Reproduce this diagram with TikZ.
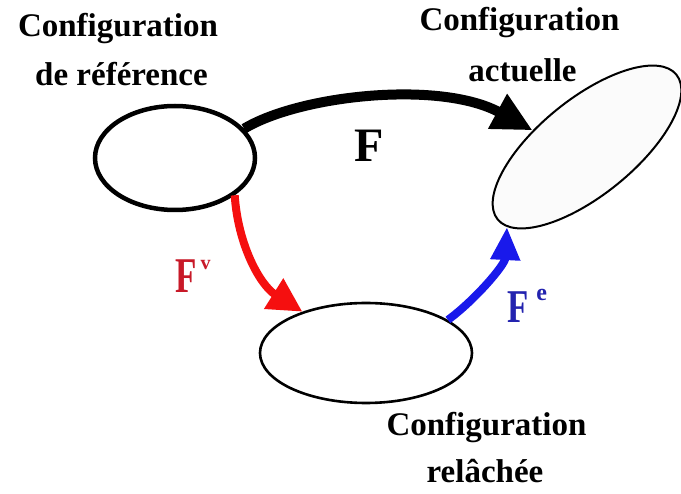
\documentclass[tikz,border=0pt]{standalone}
\usepackage{graphicx}
\usepackage{fontspec}
\setmainfont{Liberation Serif}
\usetikzlibrary{shapes.geometric,arrows.meta}
\definecolor{fred}{RGB}{245,15,15}
\definecolor{fblue}{RGB}{25,25,235}
\definecolor{labred}{RGB}{200,25,40}
\definecolor{labblue}{RGB}{35,35,175}
\begin{document}
\begin{tikzpicture}[x=1pt,y=-1pt,
  conf/.style={shape=ellipse, draw=black, inner sep=0pt, fill=white},
  lab/.style={font=\fontsize{33}{33}\selectfont\bfseries, anchor=base, inner sep=0pt},
  biglab/.style={font=\fontsize{48}{48}\selectfont\bfseries, inner sep=0pt},
  arrowF/.style={line width=10pt, -{Triangle[length=40pt,width=37pt]}},
  arrowV/.style={fred, line width=8pt, -{Triangle[length=34pt,width=34pt]}},
  arrowE/.style={fblue, line width=8pt, -{Triangle[length=33pt,width=28pt]}}]
\useasboundingbox (0,0) rectangle (681,494);
\fill[white] (0,0) rectangle (681,494);
% ellipses
\node[conf, line width=4.5pt, minimum width=160pt, minimum height=104pt] (ref) at (175,158) {};
\node[conf, line width=2.6pt, minimum width=212pt, minimum height=100pt] (rel) at (366,353) {};
\node[conf, line width=2pt, minimum width=230pt, minimum height=96pt, rotate=39, fill=gray!3] (act) at (587,147) {};
% arrows
\draw[arrowF] (ref.23) .. controls (300,95) and (440,80) .. (act.124);
\draw[arrowV] (ref.-32) .. controls (238,245) and (260,285) .. (rel.147);
\draw[arrowE] (rel.22) .. controls (475,300) and (505,265) .. (act.186);
% texts
\node[lab] (t1) at (118,37) {Configuration};
\node[lab] (t2) at (121.5,86) {de référence};
\node[lab] (t3) at (519.5,31) {Configuration};
\node[lab] (t4) at (522.5,82) {actuelle};
\node[lab] (t5) at (486.5,436) {Configuration};
\node[lab] (t6) at (485,483) {relâchée};
% labels
\node[biglab, anchor=base] (flab) at (369,162) {F};
\node[biglab, font=\fontsize{50}{50}\selectfont\bfseries, anchor=base west, text=labred] (fvlab) at (175,293)
  {\scalebox{0.7}[1]{F}\hspace{4pt}\raisebox{23pt}{\fontsize{20}{20}\selectfont v}};
\node[biglab, font=\fontsize{47}{47}\selectfont\bfseries, anchor=base west, text=labblue] (felab) at (507,323)
  {\scalebox{0.74}[1]{F}\hspace{8pt}\raisebox{22pt}{\fontsize{24}{24}\selectfont e}};
\end{tikzpicture}
\end{document}
